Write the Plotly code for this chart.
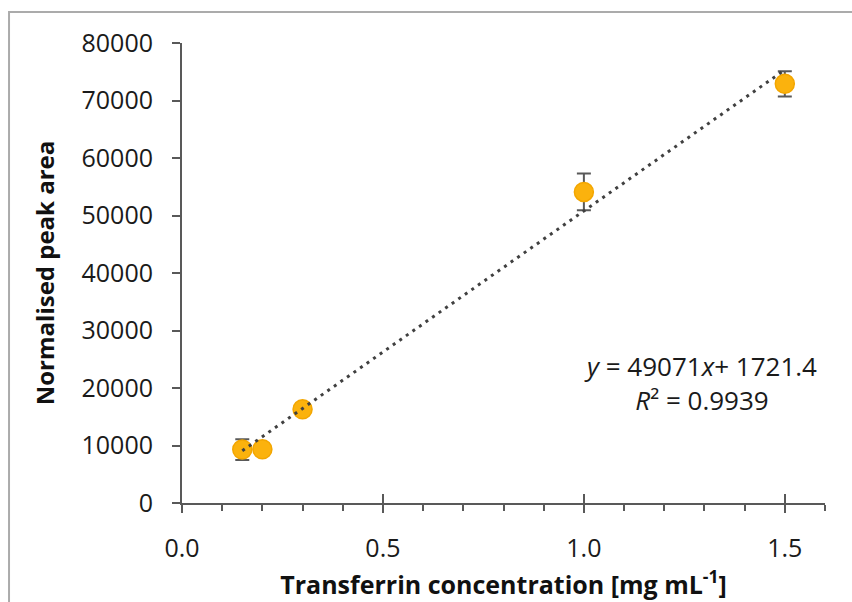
import plotly.graph_objects as go

# ---- data ----
conc = [0.15, 0.2, 0.3, 1.0, 1.5]
peak_area = [9300, 9350, 16300, 54100, 72900]
peak_err = [1800, 500, 700, 3200, 2200]

slope = 49071
intercept = 1721.4
r_squared = 0.9939
fit_x = [0.15, 1.5]
fit_y = [slope * v + intercept for v in fit_x]

x_ticks = [0.0, 0.5, 1.0, 1.5]
x_ticklabels = ["0.0", "0.5", "1.0", "1.5"]
y_ticks = [0, 10000, 20000, 30000, 40000, 50000, 60000, 70000, 80000]
y_ticklabels = ["0", "10000", "20000", "30000", "40000", "50000", "60000", "70000", "80000"]

FONT = "Open Sans"
AXIS_COL = "#595959"

fig = go.Figure()
fig.add_trace(go.Scatter(
    x=conc, y=peak_area, mode="markers",
    marker=dict(size=19, color="#FBB20D", line=dict(color="#F3A600", width=1.5)),
    error_y=dict(type="data", array=peak_err, visible=True, color=AXIS_COL, thickness=2, width=7),
    showlegend=False, hoverinfo="skip",
))
fig.add_trace(go.Scatter(
    x=fit_x, y=fit_y, mode="lines",
    line=dict(color="#404040", width=3, dash="3px,5px"),
    showlegend=False, hoverinfo="skip",
))
# overlay axis for crossing major ticks
fig.add_trace(go.Scatter(x=[0], y=[0], xaxis="x2", mode="markers",
                         marker=dict(opacity=0), showlegend=False, hoverinfo="skip"))

fig.update_layout(
    width=852, height=602,
    margin=dict(l=182, r=27, t=43, b=99),
    paper_bgcolor="white", plot_bgcolor="white",
    font=dict(family=FONT, color="#1a1a1a", size=25),
    xaxis=dict(
        range=[0, 1.6], tickvals=x_ticks, ticktext=x_ticklabels,
        showgrid=False, zeroline=False,
        showline=True, linecolor=AXIS_COL, linewidth=2,
        ticks="outside", ticklen=8, tickwidth=2, tickcolor=AXIS_COL,
        minor=dict(dtick=0.1, tick0=0, ticks="outside", ticklen=6, tickwidth=2, tickcolor=AXIS_COL),
        tickfont=dict(size=25, color="#1a1a1a"),
        ticklabelstandoff=14,
        title=dict(text="<b>Transferrin concentration [mg mL<sup>-1</sup>]</b>",
                   font=dict(size=25, color="#111111"), standoff=0),
    ),
    xaxis2=dict(
        range=[0, 1.6], overlaying="x", anchor="y", side="bottom",
        tickvals=x_ticks, showticklabels=False, showgrid=False, zeroline=False,
        ticks="inside", ticklen=9, tickwidth=2, tickcolor=AXIS_COL, showline=False,
    ),
    yaxis=dict(
        range=[0, 80000], tickvals=y_ticks, ticktext=y_ticklabels,
        showgrid=False, zeroline=False,
        showline=True, linecolor=AXIS_COL, linewidth=2,
        ticks="outside", ticklen=8, tickwidth=2, tickcolor=AXIS_COL,
        tickfont=dict(size=25, color="#1a1a1a"),
        ticklabelstandoff=14,
        title=dict(text="<b>Normalised peak area</b>",
                   font=dict(size=24, color="#111111"), standoff=20),
    ),
    annotations=[dict(
        x=1.29, y=20900, xref="x", yref="y",
        text=(f"<i>y</i> = {slope}<i>x</i>+ {intercept}"
              f"<br><i>R</i>² = {r_squared}"),
        showarrow=False, xanchor="center", yanchor="middle", align="center",
        font=dict(size=26, color="#1a1a1a"),
    )],
    shapes=[dict(
        type="rect", xref="paper", yref="paper",
        x0=-0.269, x1=2, y0=-1, y1=1.0674,
        line=dict(color="#ababab", width=2), fillcolor="rgba(0,0,0,0)", layer="below",
    )],
)

fig.write_html("out.html")
